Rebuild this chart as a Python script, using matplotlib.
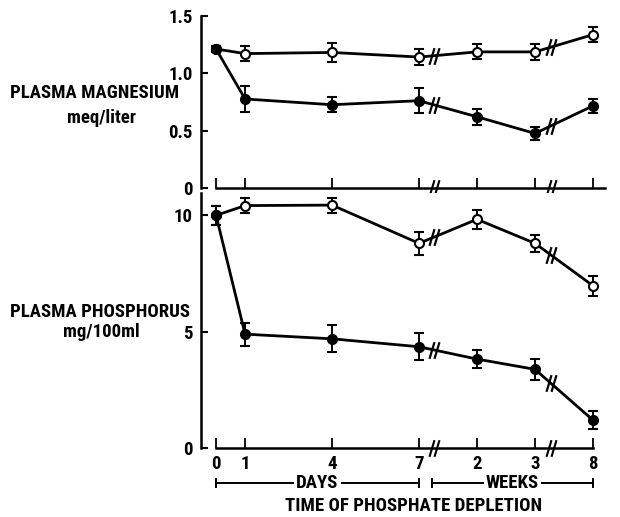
import numpy as np
import matplotlib
matplotlib.use("Agg")
import matplotlib.pyplot as plt
from matplotlib.path import Path
import matplotlib.transforms as mtransforms

plt.rcParams['font.family'] = ['Roboto Condensed', 'DejaVu Sans']
plt.rcParams['font.weight'] = 'bold'

# ---- data ----
days = [0, 1, 4, 7]
weeks = [2, 3, 8]
x_labels = ['0', '1', '4', '7', '2', '3', '8']

mg_ctrl = [1.21, 1.17, 1.18, 1.14, 1.185, 1.185, 1.335]
mg_ctrl_err = [0.03, 0.065, 0.085, 0.07, 0.065, 0.068, 0.068]
mg_dep = [1.21, 0.775, 0.725, 0.76, 0.62, 0.475, 0.715]
mg_dep_err = [0.03, 0.115, 0.067, 0.11, 0.068, 0.053, 0.058]

p_ctrl = [10.0, 10.42, 10.44, 8.8, 9.83, 8.8, 6.98]
p_ctrl_err = [0.4, 0.31, 0.32, 0.49, 0.4, 0.36, 0.43]
p_dep = [10.0, 4.9, 4.7, 4.36, 3.83, 3.39, 1.21]
p_dep_err = [0.4, 0.5, 0.58, 0.59, 0.39, 0.46, 0.37]

# axis slot positions (broken axis: weeks drawn at equal spacing after day 7)
xpos = np.array(days + [days[-1] + 2 * (i + 1) for i in range(len(weeks))], dtype=float)
breaks = [7.5, 11.55]

W, H = 620, 517
fig = plt.figure(figsize=(W / 100, H / 100), dpi=100)

def px_axes(left, top, right, bottom):
    return fig.add_axes([left / W, 1 - bottom / H, (right - left) / W, (bottom - top) / H])

XL = (-0.52, 13.45)
ax1 = px_axes(201, 15.7, 606, 188)
ax2 = px_axes(201, 193, 606, 448.3)

# break marker path "//"
brk = Path([(-0.6, -1.0), (0.0, 1.0), (0.0, -1.0), (0.6, 1.0)],
           [Path.MOVETO, Path.LINETO, Path.MOVETO, Path.LINETO])

def draw_panel(ax, ctrl, ctrl_err, dep, dep_err, ylim, yticks, yticklabels, right_end):
    ax.set_xlim(*XL)
    ax.set_ylim(*ylim)
    for s in ['top', 'right']:
        ax.spines[s].set_visible(False)
    ax.spines['left'].set_linewidth(1.8)
    ax.spines['bottom'].set_linewidth(1.8)
    ax.spines['bottom'].set_bounds(0, right_end)
    ax.set_yticks(yticks)
    ax.set_yticklabels(yticklabels)
    ax.tick_params(axis='y', direction='in', length=5, width=1.5, pad=6, labelsize=13.5)
    ax.set_xticks(xpos)
    ax.tick_params(axis='x', direction='in', length=7, width=1.3, labelsize=13.5, pad=5)
    for x, y, e, mfc in [(xpos, ctrl, ctrl_err, 'white'), (xpos, dep, dep_err, 'black')]:
        ax.errorbar(x, y, yerr=e, fmt='-o', color='black', mfc=mfc, mec='black',
                    ms=6.5, mew=1.5, lw=2.0, elinewidth=1.4, capsize=3.5, capthick=1.4,
                    clip_on=False, zorder=3 if mfc == 'white' else 4)
        by = np.interp(breaks, x, y)
        ax.plot(breaks, by, ls='none', marker=brk, ms=12, mew=1.6, mec='black',
                clip_on=False, zorder=5)
    ax.plot(breaks, [ylim[0]] * 2, ls='none', marker=brk, ms=12, mew=1.5, mec='black',
            clip_on=False, zorder=5)

draw_panel(ax1, mg_ctrl, mg_ctrl_err, mg_dep, mg_dep_err, (0, 1.5),
           [0, 0.5, 1.0, 1.5], ['0', '0.5', '1.0', '1.5'], 13.4)
ax1.set_xticklabels([])
draw_panel(ax2, p_ctrl, p_ctrl_err, p_dep, p_dep_err, (0, 10.96),
           [0, 5, 10], ['0', '5', '10'], 13.0)
ax2.set_xticklabels(x_labels)

# y-axis labels
fs = 13.5
def ftxt(x, y, s, ha='left'):
    fig.text(x / W, 1 - y / H, s, ha=ha, va='center', fontsize=fs, fontweight='bold')

ftxt(10, 93, 'PLASMA MAGNESIUM')
ftxt(67, 118, 'meq/liter')
ftxt(10, 312, 'PLASMA PHOSPHORUS')
ftxt(63, 332, 'mg/100ml')

# DAYS / WEEKS brackets
tr = mtransforms.blended_transform_factory(ax2.transData, fig.transFigure)
yb = 1 - 483 / H
tk = 4 / H
for (a, b, lab) in [(0, 7, 'DAYS'), (7.45, 13, 'WEEKS')]:
    ax2.plot([a, b], [yb, yb], color='black', lw=1.4, transform=tr, clip_on=False)
    for e in (a, b):
        ax2.plot([e, e], [yb - tk, yb + tk], color='black', lw=1.4, transform=tr, clip_on=False)
    ax2.text((a + b) / 2, yb, lab, transform=tr, ha='center', va='center', fontsize=fs,
             fontweight='bold', bbox=dict(facecolor='white', edgecolor='none', pad=1.5),
             zorder=6)

fig.text(414 / W, 1 - 506 / H, 'TIME OF PHOSPHATE DEPLETION', ha='center', va='center',
         fontsize=fs, fontweight='bold')

fig.savefig('out.png', dpi=100)
